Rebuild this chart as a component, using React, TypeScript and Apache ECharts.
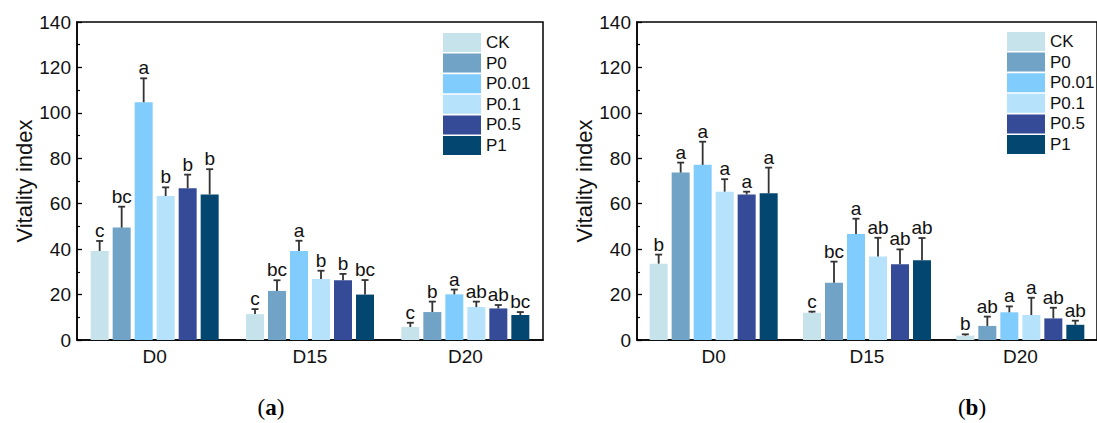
import { useEffect, useRef } from "react";
import * as echarts from "echarts";

const categories = ["D0", "D15", "D20"];
const treatments = ["CK", "P0", "P0.01", "P0.1", "P0.5", "P1"];
const colors = ["#c6e3ec", "#70a3c6", "#80cdfd", "#b6e3fb", "#354b97", "#03466f"];
const yMin = 0;
const yMax = 140;
const yInterval = 20;

// Chart (a): means, SDs and significance letters, per treatment across D0, D15, D20
const meansA = [
  [39.2, 11.4, 5.7],
  [49.5, 21.6, 12.3],
  [104.7, 39.2, 20.1],
  [63.4, 26.9, 14.5],
  [66.8, 26.3, 13.9],
  [64.1, 20.0, 11.0],
];
const sdA = [
  [4.4, 2.2, 1.9],
  [9.2, 4.7, 4.6],
  [10.5, 4.5, 2.1],
  [3.8, 3.6, 2.4],
  [6.0, 2.8, 1.5],
  [11.1, 6.4, 1.3],
];
const lettersA = [
  ["c", "c", "c"],
  ["bc", "bc", "b"],
  ["a", "a", "a"],
  ["b", "b", "ab"],
  ["b", "b", "ab"],
  ["b", "bc", "bc"],
];

// Chart (b)
const meansB = [
  [33.6, 12.0, 1.9],
  [73.7, 25.2, 6.2],
  [77.1, 46.7, 12.2],
  [65.3, 36.8, 11.0],
  [64.1, 33.3, 9.5],
  [64.6, 35.1, 6.7],
];
const sdB = [
  [4.0, 0.5, 0.6],
  [4.4, 9.3, 4.1],
  [10.2, 6.7, 2.6],
  [5.5, 8.2, 7.6],
  [1.2, 6.6, 4.7],
  [11.3, 9.8, 1.8],
];
const lettersB = [
  ["b", "c", "b"],
  ["a", "bc", "ab"],
  ["a", "a", "a"],
  ["a", "ab", "a"],
  ["a", "ab", "ab"],
  ["a", "ab", "ab"],
];

const panels = [
  { means: meansA, sd: sdA, letters: lettersA, caption: "a" },
  { means: meansB, sd: sdB, letters: lettersB, caption: "b" },
];

const FONT = "'Liberation Sans', Arial, sans-serif";
const BAR_W = 18;
const BAR_GAP = 4;

export default function App() {
  const ref = useRef<HTMLDivElement>(null);

  useEffect(() => {
    if (!ref.current) return;
    const chart = echarts.init(ref.current, null, { renderer: "svg" });

    const grids = [
      { left: 77, top: 22, width: 466, height: 318 },
      { left: 637, top: 22, width: 466, height: 318 },
    ].map((g) => ({
      ...g,
      show: true,
      borderColor: "#000",
      borderWidth: 1.5,
      backgroundColor: "transparent",
    }));

    const xAxes = [0, 1].map((i) => ({
      type: "category",
      gridIndex: i,
      data: categories,
      axisLine: { show: true, lineStyle: { color: "#000", width: 1.5 } },
      axisTick: { show: false },
      axisLabel: { color: "#111", fontSize: 19, fontFamily: FONT, margin: 7 },
      splitLine: { show: false },
    }));

    const yAxes = [0, 1].map((i) => ({
      type: "value",
      gridIndex: i,
      min: yMin,
      max: yMax,
      interval: yInterval,
      name: "Vitality index",
      nameLocation: "middle",
      nameGap: 40,
      nameTextStyle: { color: "#111", fontSize: 22, fontFamily: FONT },
      axisLine: { show: true, lineStyle: { color: "#000", width: 1.5 } },
      axisTick: { show: true, inside: true, length: 5, lineStyle: { color: "#000", width: 1.3 } },
      minorTick: { show: true, splitNumber: 2, length: 3, lineStyle: { color: "#000", width: 1.2 } },
      axisLabel: { color: "#111", fontSize: 19, fontFamily: FONT, margin: 6 },
      splitLine: { show: false },
    }));

    const series: any[] = [];
    panels.forEach((p, gi) => {
      treatments.forEach((name, ti) => {
        series.push({
          type: "bar",
          name,
          xAxisIndex: gi,
          yAxisIndex: gi,
          barWidth: BAR_W,
          barGap: `${(BAR_GAP / BAR_W) * 100}%`,
          itemStyle: { color: colors[ti] },
          data: p.means[ti],
          z: 2,
        });
      });
      treatments.forEach((name, ti) => {
        const offset = (ti - (treatments.length - 1) / 2) * (BAR_W + BAR_GAP);
        series.push({
          type: "custom",
          name: `err-${gi}-${name}`,
          xAxisIndex: gi,
          yAxisIndex: gi,
          z: 5,
          data: categories.map((_, ci) => [ci, p.means[ti][ci], p.means[ti][ci] + p.sd[ti][ci]]),
          renderItem: (params: any, api: any) => {
            const c = api.coord([api.value(0), api.value(1)]);
            const t = api.coord([api.value(0), api.value(2)]);
            const x = c[0] + offset;
            const letter = p.letters[ti][params.dataIndex];
            return {
              type: "group",
              children: [
                {
                  type: "line",
                  shape: { x1: x, y1: c[1], x2: x, y2: t[1] },
                  style: { stroke: "#333", lineWidth: 1.8 },
                },
                {
                  type: "line",
                  shape: { x1: x - 3.5, y1: t[1], x2: x + 3.5, y2: t[1] },
                  style: { stroke: "#333", lineWidth: 1.8 },
                },
                {
                  type: "text",
                  x,
                  y: t[1] - 1,
                  style: {
                    text: letter,
                    fill: "#111",
                    fontSize: 19,
                    fontFamily: FONT,
                    align: "center",
                    verticalAlign: "bottom",
                  },
                },
              ],
            };
          },
        });
      });
    });

    const legendBase = {
      data: treatments,
      orient: "vertical",
      itemWidth: 38,
      itemHeight: 19,
      itemGap: 1.6,
      icon: "rect",
      padding: 0,
      selectedMode: false,
      textStyle: { fontSize: 17, fontFamily: FONT, color: "#111" },
    };

    chart.setOption({
      animation: false,
      backgroundColor: "#fff",
      grid: grids,
      xAxis: xAxes,
      yAxis: yAxes,
      legend: [
        { ...legendBase, left: 443, top: 33 },
        { ...legendBase, left: 1007, top: 32 },
      ],
      graphic: [
        { cx: 271, label: "a" },
        { cx: 972, label: "b" },
      ].map((g) => ({
        type: "text",
        x: g.cx,
        y: 407,
        style: {
          text: `{p|(}{b|${g.label}}{p|)}`,
          align: "center",
          verticalAlign: "middle",
          rich: {
            p: { fontSize: 23, fontFamily: "'Liberation Serif', 'Times New Roman', serif", fill: "#000" },
            b: {
              fontSize: 23,
              fontWeight: "bold",
              fontFamily: "'Liberation Serif', 'Times New Roman', serif",
              fill: "#000",
            },
          },
        },
      })),
      series,
    });

    return () => chart.dispose();
  }, []);

  return (
    <div
      style={{
        position: "fixed",
        left: 0,
        top: 0,
        width: 1097,
        height: 423,
        overflow: "hidden",
        background: "#fff",
      }}
    >
      <div ref={ref} style={{ width: 1097, height: 423 }} />
    </div>
  );
}
